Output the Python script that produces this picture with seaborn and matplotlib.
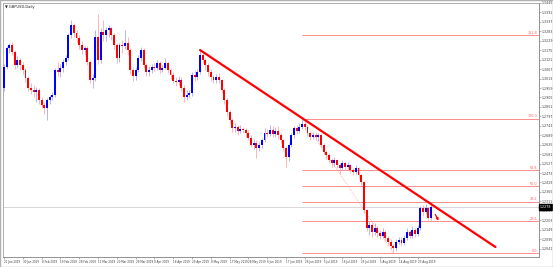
import matplotlib
matplotlib.use("Agg")
import matplotlib.pyplot as plt
import seaborn as sns
import numpy as np
import pandas as pd

# ---------------- data ----------------
symbol_title = "GBPUSD,Daily"
first_open = 1.2958
closes = [1.3077, 1.3186, 1.3203, 1.3163, 1.3089, 1.3117, 1.3089, 1.3060, 1.3015, 1.2958,
          1.2946, 1.2935, 1.2946, 1.2889, 1.2860, 1.2843, 1.2889, 1.2906, 1.2918, 1.3060,
          1.3049, 1.3072, 1.3106, 1.3129, 1.3260, 1.3317, 1.3272, 1.3243, 1.3203, 1.3175,
          1.3186, 1.3106, 1.3003, 1.3015, 1.3249, 1.3117, 1.3277, 1.3260, 1.3289, 1.3300,
          1.3260, 1.3203, 1.3129, 1.3203, 1.3197, 1.3214, 1.3175, 1.3060, 1.3026, 1.3060,
          1.3129, 1.3175, 1.3089, 1.3049, 1.3060, 1.3077, 1.3072, 1.3100, 1.3060, 1.3072,
          1.3100, 1.3060, 1.3032, 1.2997, 1.2992, 1.3003, 1.2958, 1.2906, 1.2918, 1.2929,
          1.3032, 1.3020, 1.3049, 1.3146, 1.3117, 1.3089, 1.3049, 1.3020, 1.3003, 1.3020,
          1.3003, 1.2946, 1.2889, 1.2820, 1.2775, 1.2729, 1.2735, 1.2712, 1.2724, 1.2718,
          1.2701, 1.2672, 1.2632, 1.2643, 1.2615, 1.2632, 1.2661, 1.2701, 1.2695, 1.2718,
          1.2695, 1.2712, 1.2689, 1.2661, 1.2615, 1.2564, 1.2632, 1.2689, 1.2729, 1.2712,
          1.2735, 1.2752, 1.2735, 1.2701, 1.2678, 1.2689, 1.2678, 1.2689, 1.2632, 1.2592,
          1.2575, 1.2546, 1.2529, 1.2546, 1.2518, 1.2501, 1.2529, 1.2506, 1.2518, 1.2489,
          1.2478, 1.2501, 1.2461, 1.2421, 1.2261, 1.2158, 1.2175, 1.2135, 1.2158, 1.2130,
          1.2112, 1.2135, 1.2101, 1.2079, 1.2056, 1.2045, 1.2079, 1.2090, 1.2073, 1.2101,
          1.2135, 1.2112, 1.2147, 1.2124, 1.2158, 1.2272, 1.2250, 1.2272, 1.2215, 1.2278]
highs = [1.3095, 1.3200, 1.3215, 1.3220, 1.3175, 1.3140, 1.3130, 1.3110, 1.3075, 1.3030,
         1.2990, 1.2975, 1.2965, 1.2960, 1.2905, 1.2880, 1.2900, 1.2920, 1.2935, 1.3075,
         1.3110, 1.3095, 1.3125, 1.3145, 1.3275, 1.3350, 1.3330, 1.3290, 1.3260, 1.3225,
         1.3200, 1.3200, 1.3120, 1.3040, 1.3290, 1.3380, 1.3300, 1.3345, 1.3310, 1.3320,
         1.3310, 1.3275, 1.3215, 1.3215, 1.3235, 1.3290, 1.3250, 1.3190, 1.3080, 1.3080,
         1.3145, 1.3195, 1.3190, 1.3100, 1.3085, 1.3095, 1.3100, 1.3120, 1.3115, 1.3090,
         1.3130, 1.3110, 1.3075, 1.3050, 1.3020, 1.3030, 1.3020, 1.2975, 1.2945, 1.2950,
         1.3050, 1.3060, 1.3070, 1.3176, 1.3165, 1.3130, 1.3100, 1.3065, 1.3035, 1.3040,
         1.3045, 1.3010, 1.2960, 1.2900, 1.2835, 1.2790, 1.2760, 1.2745, 1.2750, 1.2735,
         1.2730, 1.2720, 1.2690, 1.2665, 1.2660, 1.2650, 1.2675, 1.2730, 1.2725, 1.2750,
         1.2740, 1.2735, 1.2740, 1.2700, 1.2670, 1.2625, 1.2645, 1.2700, 1.2740, 1.2750,
         1.2760, 1.2784, 1.2770, 1.2745, 1.2710, 1.2705, 1.2705, 1.2700, 1.2695, 1.2645,
         1.2605, 1.2590, 1.2560, 1.2565, 1.2555, 1.2530, 1.2545, 1.2540, 1.2535, 1.2525,
         1.2500, 1.2520, 1.2510, 1.2470, 1.2430, 1.2270, 1.2200, 1.2190, 1.2185, 1.2170,
         1.2150, 1.2160, 1.2145, 1.2115, 1.2095, 1.2070, 1.2095, 1.2110, 1.2105, 1.2120,
         1.2160, 1.2150, 1.2170, 1.2160, 1.2175, 1.2285, 1.2290, 1.2295, 1.2280, 1.2301]
lows = [1.2940, 1.3065, 1.3160, 1.3150, 1.3070, 1.3075, 1.3060, 1.3040, 1.2995, 1.2940,
        1.2925, 1.2910, 1.2880, 1.2870, 1.2845, 1.2810, 1.2775, 1.2870, 1.2890, 1.2905,
        1.3030, 1.3020, 1.3050, 1.3090, 1.3120, 1.3245, 1.3250, 1.3220, 1.3180, 1.3155,
        1.3150, 1.3090, 1.2985, 1.2958, 1.3000, 1.3095, 1.3100, 1.3230, 1.3225, 1.3250,
        1.3235, 1.3180, 1.3100, 1.3110, 1.3160, 1.3180, 1.3150, 1.3040, 1.3000, 1.3005,
        1.3050, 1.3115, 1.3075, 1.3030, 1.3025, 1.3045, 1.3055, 1.3060, 1.3045, 1.3050,
        1.3065, 1.3045, 1.3010, 1.2985, 1.2970, 1.2975, 1.2940, 1.2880, 1.2890, 1.2900,
        1.2915, 1.3000, 1.3005, 1.3040, 1.3100, 1.3060, 1.3030, 1.3000, 1.2985, 1.2990,
        1.2990, 1.2930, 1.2870, 1.2800, 1.2760, 1.2710, 1.2705, 1.2690, 1.2700, 1.2700,
        1.2680, 1.2660, 1.2620, 1.2610, 1.2560, 1.2600, 1.2615, 1.2650, 1.2680, 1.2685,
        1.2680, 1.2680, 1.2670, 1.2645, 1.2600, 1.2506, 1.2540, 1.2620, 1.2675, 1.2695,
        1.2700, 1.2725, 1.2720, 1.2685, 1.2660, 1.2665, 1.2660, 1.2655, 1.2615, 1.2580,
        1.2555, 1.2530, 1.2510, 1.2515, 1.2500, 1.2470, 1.2490, 1.2490, 1.2495, 1.2475,
        1.2460, 1.2465, 1.2445, 1.2405, 1.2245, 1.2140, 1.2120, 1.2105, 1.2120, 1.2110,
        1.2095, 1.2100, 1.2085, 1.2060, 1.2040, 1.2015, 1.2030, 1.2065, 1.2055, 1.2060,
        1.2090, 1.2100, 1.2100, 1.2110, 1.2115, 1.2150, 1.2230, 1.2240, 1.2200, 1.2205]

date_labels = ["21 Jan 2019", "30 Jan 2019", "8 Feb 2019", "19 Feb 2019", "28 Feb 2019",
               "11 Mar 2019", "20 Mar 2019", "29 Mar 2019", "9 Apr 2019", "18 Apr 2019",
               "29 Apr 2019", "8 May 2019", "17 May 2019", "28 May 2019", "6 Jun 2019",
               "17 Jun 2019", "26 Jun 2019", "5 Jul 2019", "16 Jul 2019", "25 Jul 2019",
               "5 Aug 2019", "14 Aug 2019", "23 Aug 2019"]
bars_per_label = 7

price_ticks = [1.3445, 1.3391, 1.3337, 1.3283, 1.3229, 1.3175, 1.3121, 1.3067, 1.3013,
               1.2959, 1.2905, 1.2851, 1.2797, 1.2743, 1.2689, 1.2635, 1.2581, 1.2527,
               1.2473, 1.2419, 1.2365, 1.2311, 1.2257, 1.2203, 1.2149, 1.2095, 1.2041]

# Fibonacci retracement (high bar -> low bar)
fib_high_bar, fib_high = 111, 1.2784
fib_low_bar, fib_low = 145, 1.2015
fib_levels = [0.0, 23.6, 38.2, 50.0, 61.8, 100.0, 161.8]

# hand-drawn trend line and arrow (bar index, price)
trend_bars = [73, 183]
trend_prices = [1.3176, 1.2050]
arrow_bars = [160.1, 162.3]
arrow_prices = [1.2250, 1.2187]

# ---------------- figure ----------------
sns.set_theme(style="white")
plt.rcParams['font.family'] = ['DejaVu Sans']

W, H = 553, 267
fig = plt.figure(figsize=(W / 100, H / 100), dpi=100)
fig.patch.set_facecolor("white")
ax = fig.add_axes([3 / W, (H - 257) / H, 536 / W, 254 / H])
ax.set_facecolor("white")

n = len(closes)
opens = [first_open] + closes[:-1]
df = pd.DataFrame({"bar": np.arange(n), "open": opens, "high": highs,
                   "low": lows, "close": closes})
df["up"] = df["close"] >= df["open"]

bull, bear = "#0000ff", "#ff0000"
bull_w, bear_w = "#a8a8ff", "#ffa8a8"

# wicks
for up, wc in [(True, bull_w), (False, bear_w)]:
    d = df[df["up"] == up]
    ax.vlines(d["bar"], d["low"], d["high"], color=wc, lw=0.6, zorder=2)
# bodies
body_bottom = np.minimum(df["open"], df["close"])
body_h = np.maximum(np.abs(df["close"] - df["open"]), 0.00025)
ax.bar(df["bar"], body_h, bottom=body_bottom, width=0.72,
       color=np.where(df["up"], bull, bear), linewidth=0, zorder=3)

# axis limits
x_left, x_right = -0.372, 199.2
y_bottom, y_top = 1.1993, 1.3443
ax.set_xlim(x_left, x_right)
ax.set_ylim(y_bottom, y_top)

# current price line
last = closes[-1]
ax.axhline(last, color="#c8c8c8", lw=0.5, zorder=1)

# fibonacci levels
rng = fib_high - fib_low
fib_df = pd.DataFrame({"level": fib_levels,
                       "price": [fib_low + lv / 100 * rng for lv in fib_levels]})
for _, r in fib_df.iterrows():
    ax.hlines(r["price"], fib_high_bar, x_right, color="#ff8c8c", lw=0.7, zorder=1)
    ax.text(x_right - 0.6, r["price"] + 0.0002, f"{r['level']:.1f}", color="#ff6060",
            fontsize=2.4, ha="right", va="bottom", zorder=4)
ax.plot([fib_high_bar, fib_low_bar], [fib_high, fib_low], color="#ff8c8c",
        lw=0.5, ls=(0, (1, 1.5)), zorder=1)

# trend line
sns.lineplot(x=trend_bars, y=trend_prices, ax=ax, color="#ff0000", lw=1.6, zorder=5)
ax.annotate("", xy=(arrow_bars[1], arrow_prices[1]), xytext=(arrow_bars[0], arrow_prices[0]),
            arrowprops=dict(arrowstyle="-|>", color="#ff0000", lw=0.9,
                            mutation_scale=3), zorder=5)

# axes styling (MT4 look)
for s in ["top", "left"]:
    ax.spines[s].set_color("#a0a0a0")
    ax.spines[s].set_linewidth(0.6)
for s in ["right", "bottom"]:
    ax.spines[s].set_color("#808080")
    ax.spines[s].set_linewidth(0.6)

ax.yaxis.tick_right()
ax.set_yticks(price_ticks)
ax.set_yticklabels([f"{p:.4f}" for p in price_ticks])
ax.tick_params(axis="y", which="both", direction="out", length=1.2, width=0.4,
               colors="#808080", labelsize=2.3, labelcolor="#404040", pad=0.5, right=True)

xt = [k * bars_per_label for k in range(len(date_labels))]
ax.set_xticks(xt)
ax.set_xticklabels(date_labels, ha="left")
ax.tick_params(axis="x", which="both", direction="out", length=1.2, width=0.4,
               colors="#808080", labelsize=2.0, labelcolor="#404040", pad=0.8, bottom=True)
ax.set_xlabel("")
ax.set_ylabel("")
ax.grid(False)

# current price tag
ax.text(1.002, (last - y_bottom) / (y_top - y_bottom), f"{last:.4f}",
        transform=ax.transAxes, fontsize=2.3, color="white", ha="left", va="center",
        bbox=dict(boxstyle="square,pad=0.2", fc="black", ec="black"), zorder=6,
        clip_on=False)

# title
ax.text(0.004, 0.992, "\u25bc " + symbol_title, transform=ax.transAxes, fontsize=2.6,
        color="#202020", ha="left", va="top", zorder=6)

# outer frame
fig.add_artist(plt.Rectangle((0, 0), 1, 1, transform=fig.transFigure, fill=False,
                             ec="#b0b0b0", lw=1.0))

fig.savefig("out.png", dpi=100)
